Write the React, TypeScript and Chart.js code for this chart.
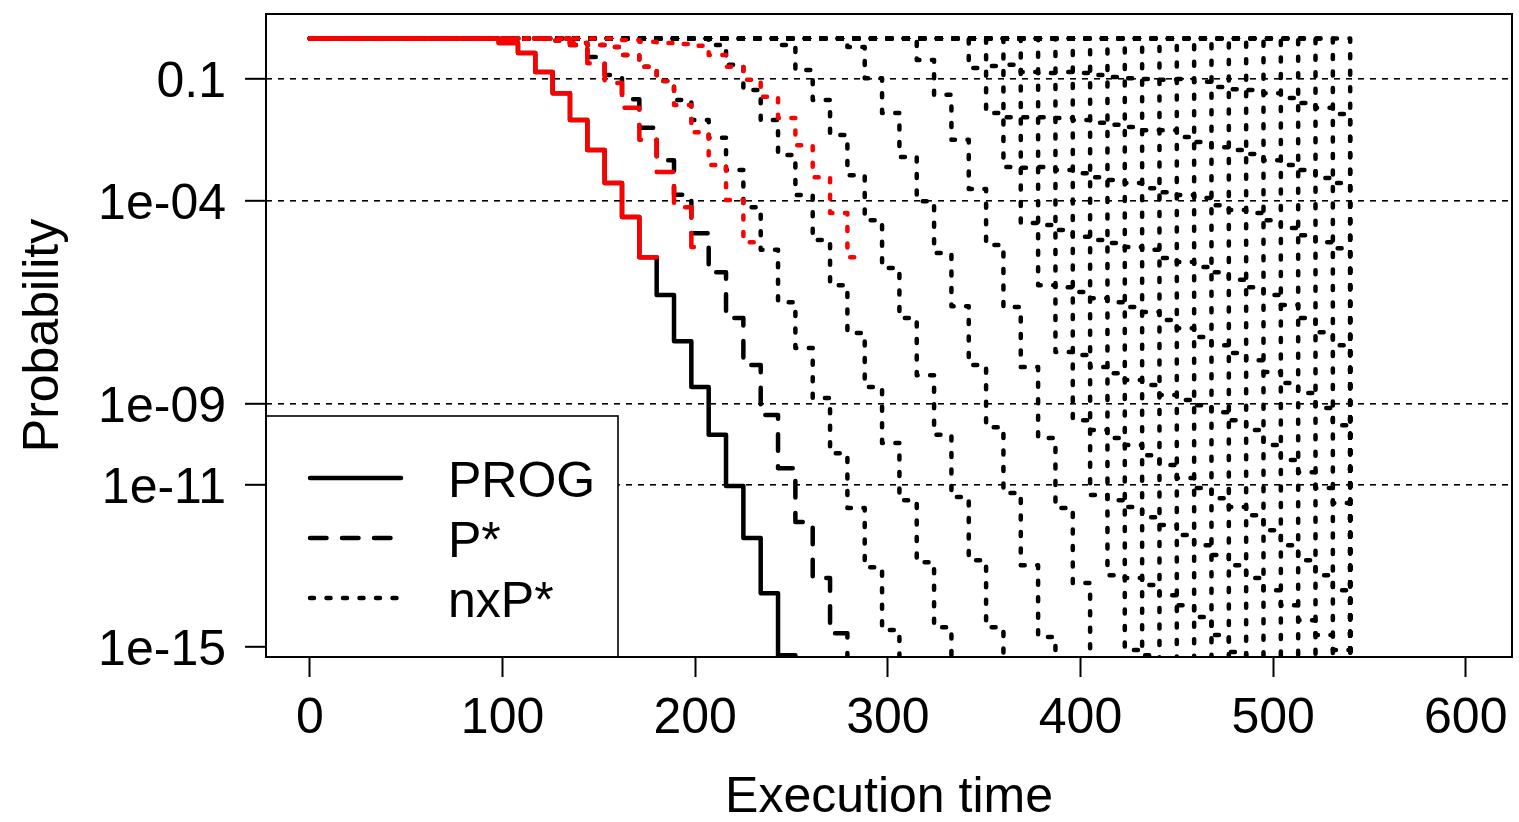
import React, { useEffect, useRef } from "react";
import { Chart, registerables } from "chart.js";

Chart.register(...registerables);

// Support points (execution times) of the discrete distributions
const TIMES = [98,108,117,126,135,144,153,162,171,180,189,198,207,216,225,234,243,252,261,270,279,288,297,306,315,324,333,342,351,360,369,378,387,396,405,414,423,432,441,450,459,468,477,486,495,504,513,522,531,540];

const X_TICKS = [0, 100, 200, 300, 400, 500, 600];
const Y_TICKS = [0.1, 1e-4, 1e-9, 1e-11, 1e-15];
const Y_TICK_LABELS = ["0.1", "1e-04", "1e-09", "1e-11", "1e-15"];
const X_MIN = -22.8;
const X_MAX = 624;
const Y_MIN = 5.7e-16;
const Y_MAX = 4.0;

// log10 of exceedance probability after each step; *_START = index in TIMES of the first step
const PROG_START = 0;
const PROG = [-0.11,-0.36,-0.83,-1.35,-2.01,-2.75,-3.56,-4.40,-5.39,-6.32,-7.46,-8.59,-9.77,-11.03,-12.31,-13.67,-15.20,-16];
const PROG_EMP_START = 0;
const PROG_EMP = [-0.11,-0.36,-0.83,-1.35,-2.01,-2.75,-3.56,-4.40,-5.39];
const PROG_EMP_END = 180;

const PSTAR_START = 4;
const PSTAR = [-0.16,-0.46,-0.90,-1.50,-2.20,-3.00,-3.85,-4.80,-5.76,-6.89,-8.05,-9.28,-10.59,-11.92,-13.30,-14.66,-16];
const PSTAR_EMP_START = 4;
const PSTAR_EMP = [-0.16,-0.61,-1.10,-1.71,-2.50,-3.29,-4.16,-5.14];
const PSTAR_EMP_END = 207;

const NXP_EMP_A_START = 3;
const NXP_EMP_A = [-0.05,-0.11,-0.16,-0.21,-0.41,-0.70,-1.05,-1.64,-2.31,-3.12,-3.98,-5.02];
const NXP_EMP_A_END = 232;
const NXP_EMP_B_START = 7;
const NXP_EMP_B = [-0.04,-0.08,-0.11,-0.14,-0.18,-0.41,-0.70,-1.02,-1.44,-1.96,-2.63,-3.42,-4.30,-5.39];
const NXP_EMP_B_END = 283;

const NXP_D1 = [-0.05,-0.11,-0.16,-0.21,-0.41,-0.70,-1.05,-1.52,-2.01,-2.45,-3.24,-4.16,-5.21,-6.50,-7.63,-8.86,-10.22,-11.57,-13.03,-14.58,-16];
const NXP_D2 = [-0.16,-0.65,-1.27,-2.01,-2.87,-3.86,-4.97,-6.08,-7.26,-8.59,-9.97,-11.38,-12.91,-14.51,-16];
const NXP_D3 = [-0.16,-0.78,-1.52,-2.38,-3.37,-4.48,-5.66,-6.89,-8.30,-9.77,-11.30,-12.86,-14.51,-16];
const NXP_D4 = [-0.21,-0.98,-1.84,-2.92,-4.01,-5.29,-6.60,-8.05,-9.58,-11.20,-12.98,-14.75,-16];
const NXP_D5 = [-0.53,-1.39,-2.50,-3.71,-5.09,-6.62,-8.10,-9.85,-11.57,-13.42,-16];
const NXP_D_STARTS = [3, 12, 16, 20, 24];

const NXP_E0 = [-0.73,-1.84,-3.17,-4.55,-6.08,-7.73,-9.41,-11.25,-13.23,-15.07,-16];
const NXP_E1 = [-0.68,-1.94,-3.19,-4.60,-6.13,-7.80,-9.65,-11.38,-13.30,-15.20,-16];
const NXP_E2 = [-0.65,-1.94,-3.17,-4.72,-6.25,-8.10,-9.85,-11.55,-13.47,-16];
const NXP_E3 = [-0.83,-1.94,-3.24,-4.89,-6.40,-8.25,-10.02,-11.80,-13.72,-16];
const NXP_E4 = [-0.85,-1.96,-3.32,-4.97,-6.50,-8.42,-10.27,-11.99,-13.97,-16];
const NXP_E5 = [-0.83,-2.01,-3.42,-5.04,-6.62,-8.54,-10.51,-12.24,-14.26,-16];
const NXP_E6 = [-0.85,-2.08,-3.49,-5.14,-6.74,-8.79,-10.83,-12.49,-14.70,-16];
const NXP_E7 = [-0.90,-2.13,-3.56,-5.21,-6.94,-8.91,-11.08,-12.73,-15.12,-16];
const NXP_E8 = [-0.95,-2.18,-3.69,-5.41,-7.14,-9.04,-11.33,-12.98,-16];
const NXP_E9 = [-0.98,-2.26,-3.79,-5.51,-7.36,-9.21,-11.55,-13.30,-16];
const NXP_E10 = [-1.00,-2.26,-3.86,-5.63,-7.56,-9.41,-11.75,-13.60,-16];
const NXP_E11 = [-1.02,-2.43,-3.93,-5.76,-7.75,-9.65,-12.12,-13.97,-16];
const NXP_E12 = [-1.00,-2.55,-4.11,-5.95,-7.93,-10.02,-12.49,-14.34,-16];
const NXP_E13 = [-1.07,-2.68,-4.23,-6.13,-8.22,-10.39,-12.86,-14.70,-16];
const NXP_E14 = [-1.20,-2.75,-4.30,-6.32,-8.49,-10.69,-13.23,-15.07,-16];
const NXP_E15 = [-1.25,-2.85,-4.48,-6.57,-8.74,-11.08,-13.60,-16];
const NXP_E16 = [-1.27,-3.00,-4.67,-6.89,-9.11,-11.45,-16];
const NXP_E17 = [-1.35,-3.12,-4.85,-7.24,-9.53,-16];
const NXP_E18 = [-1.47,-3.24,-5.02,-7.56,-16];
const NXP_E19 = [-1.59,-3.44,-5.17,-16];
const NXP_E20 = [-1.71,-3.56,-16];
const NXP_E21 = [-1.86,-16];
const NXP_E22 = [-16];
const NXP_E_FIRST_START = 27;

const FONT = '50px "Liberation Sans", Arial, Helvetica, sans-serif';
const RED = "#ff0000";
const BLACK = "#000000";
const W_LINE = 4.5;
const DASH_P = [16.5, 15.5];
const DASH_N = [4, 12.5];

function toPoints(start: number, logs: number[], endX?: number) {
  const pts = [{ x: 0, y: 1 }];
  logs.forEach((v, i) => pts.push({ x: TIMES[start + i], y: Math.pow(10, v) }));
  if (endX !== undefined) pts.push({ x: endX, y: Math.pow(10, logs[logs.length - 1]) });
  return pts;
}

function lineDs(data: any[], color: string, dash: number[], order: number) {
  return {
    data,
    borderColor: color,
    borderWidth: W_LINE,
    borderDash: dash,
    borderCapStyle: "round",
    borderJoinStyle: "round",
    pointRadius: 0,
    pointHoverRadius: 0,
    stepped: true,
    fill: false,
    tension: 0,
    clip: 0,
    order,
  };
}

const framePlugin = {
  id: "frameAndText",
  afterDraw(chart: any) {
    const { ctx, chartArea: ca, scales } = chart;
    const xs = scales.x;
    const ys = scales.y;
    ctx.save();
    // plot box
    ctx.strokeStyle = BLACK;
    ctx.lineWidth = 2;
    ctx.setLineDash([]);
    ctx.strokeRect(ca.left, ca.top, ca.right - ca.left, ca.bottom - ca.top);

    ctx.fillStyle = BLACK;
    ctx.font = FONT;
    ctx.textBaseline = "alphabetic";
    // y tick labels
    ctx.textAlign = "right";
    Y_TICKS.forEach((v, i) => {
      ctx.fillText(Y_TICK_LABELS[i], 226, ys.getPixelForValue(v) + 18);
    });
    // x tick labels
    ctx.textAlign = "center";
    X_TICKS.forEach((v) => {
      ctx.fillText(String(v), xs.getPixelForValue(v), 733);
    });
    // axis titles
    ctx.fillText("Execution time", (ca.left + ca.right) / 2, 812);
    ctx.save();
    ctx.translate(58, (ca.top + ca.bottom) / 2);
    ctx.rotate(-Math.PI / 2);
    ctx.fillText("Probability", 0, 0);
    ctx.restore();

    // legend
    const lx = ca.left, ly = 416, lr = 618, lb = ca.bottom;
    ctx.fillStyle = "#ffffff";
    ctx.fillRect(lx + 1, ly, lr - lx - 1, lb - ly - 1);
    ctx.strokeStyle = BLACK;
    ctx.lineWidth = 1.6;
    ctx.strokeRect(lx, ly, lr - lx, lb - ly);
    const items = [
      { label: "PROG", dash: [] as number[], y: 478 },
      { label: "P*", dash: DASH_P, y: 538 },
      { label: "nxP*", dash: DASH_N, y: 598 },
    ];
    items.forEach((it) => {
      ctx.beginPath();
      ctx.lineWidth = W_LINE;
      ctx.lineCap = "round";
      ctx.setLineDash(it.dash);
      ctx.moveTo(310, it.y);
      ctx.lineTo(401, it.y);
      ctx.stroke();
      ctx.setLineDash([]);
      ctx.fillStyle = BLACK;
      ctx.textAlign = "left";
      ctx.fillText(it.label, 448, it.y + 19);
    });
    ctx.restore();
  },
};

export default function App() {
  const ref = useRef<HTMLCanvasElement | null>(null);

  useEffect(() => {
    if (!ref.current) return;
    const blackDotted = [
      toPoints(NXP_D_STARTS[0], NXP_D1),
      toPoints(NXP_D_STARTS[1], NXP_D2),
      toPoints(NXP_D_STARTS[2], NXP_D3),
      toPoints(NXP_D_STARTS[3], NXP_D4),
      toPoints(NXP_D_STARTS[4], NXP_D5),
      ...[NXP_E0, NXP_E1, NXP_E2, NXP_E3, NXP_E4, NXP_E5, NXP_E6, NXP_E7, NXP_E8, NXP_E9, NXP_E10,
        NXP_E11, NXP_E12, NXP_E13, NXP_E14, NXP_E15, NXP_E16, NXP_E17, NXP_E18, NXP_E19, NXP_E20,
        NXP_E21, NXP_E22].map((arr, j) => toPoints(NXP_E_FIRST_START + j, arr)),
    ];
    const datasets: any[] = [
      lineDs(toPoints(PROG_EMP_START, PROG_EMP, PROG_EMP_END), RED, [], 0),
      lineDs(toPoints(PSTAR_EMP_START, PSTAR_EMP, PSTAR_EMP_END), RED, DASH_P, 0),
      lineDs(toPoints(NXP_EMP_A_START, NXP_EMP_A, NXP_EMP_A_END), RED, DASH_N, 0),
      lineDs(toPoints(NXP_EMP_B_START, NXP_EMP_B, NXP_EMP_B_END), RED, DASH_N, 0),
      lineDs(toPoints(PROG_START, PROG), BLACK, [], 2),
      lineDs(toPoints(PSTAR_START, PSTAR), BLACK, DASH_P, 2),
      ...blackDotted.map((d) => lineDs(d, BLACK, DASH_N, 3)),
    ];

    const chart = new Chart(ref.current, {
      type: "line",
      data: { datasets },
      options: {
        animation: false,
        responsive: false,
        devicePixelRatio: 1,
        events: [],
        layout: { padding: { left: 0, right: 7, top: 14, bottom: 0 } },
        plugins: { legend: { display: false }, tooltip: { enabled: false } },
        scales: {
          x: {
            type: "linear",
            min: X_MIN,
            max: X_MAX,
            afterBuildTicks: (s: any) => {
              s.ticks = X_TICKS.map((v) => ({ value: v }));
            },
            afterFit: (s: any) => {
              s.height = 165;
            },
            ticks: { display: false },
            border: { display: false },
            grid: {
              drawOnChartArea: false,
              drawTicks: true,
              tickLength: 20,
              tickColor: BLACK,
              tickWidth: 2,
            },
          },
          y: {
            type: "logarithmic",
            min: Y_MIN,
            max: Y_MAX,
            afterBuildTicks: (s: any) => {
              s.ticks = Y_TICKS.map((v) => ({ value: v }));
            },
            afterFit: (s: any) => {
              s.width = 266;
            },
            ticks: { display: false },
            border: { display: false, dash: [6, 6] },
            grid: {
              drawOnChartArea: true,
              drawTicks: true,
              tickLength: 21,
              tickColor: BLACK,
              tickWidth: 2,
              lineWidth: 1.6,
              color: (c: any) => (c.tick && c.tick.value === 1e-15 ? "rgba(0,0,0,0)" : BLACK),
            },
          },
        },
      },
      plugins: [framePlugin],
    } as any);
    return () => chart.destroy();
  }, []);

  return (
    <div style={{ position: "fixed", left: 0, top: 0, width: 1519, height: 822, background: "#fff" }}>
      <canvas ref={ref} width={1519} height={822} style={{ display: "block" }} />
    </div>
  );
}
